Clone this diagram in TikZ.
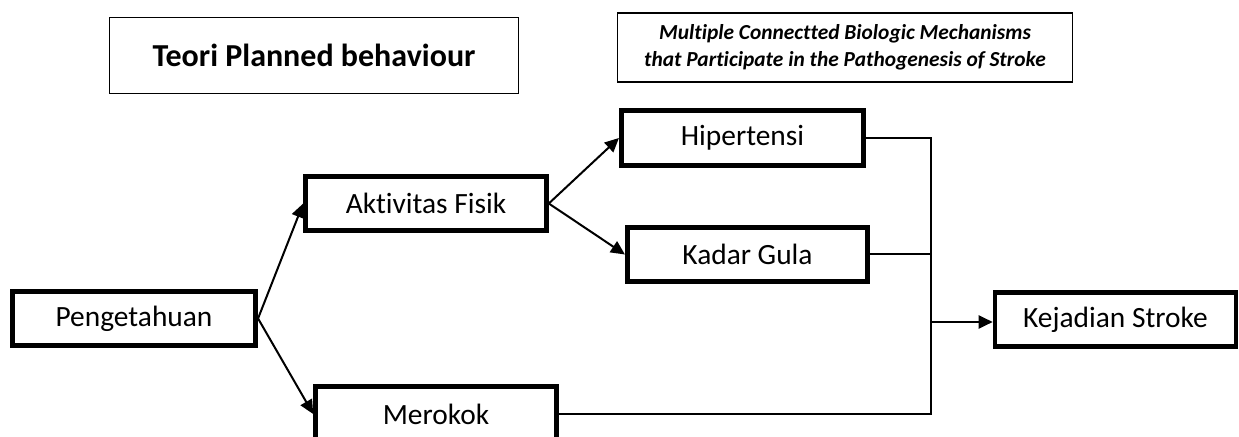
\documentclass[tikz,border=0pt]{standalone}
\usepackage{fontspec}
\setmainfont{Carlito}[Ligatures=NoCommon]
\usetikzlibrary{arrows.meta}
\begin{document}
\begin{tikzpicture}[x=0.5pt,y=-0.5pt,
  box/.style={draw=black,line width=2.3pt,rectangle,inner sep=0pt,
    minimum width=120.5pt,minimum height=27.25pt,font=\fontsize{14.7pt}{17pt}\selectfont},
  titlebox/.style={draw=black,line width=0.6pt,rectangle,inner sep=0pt,align=center},
  link/.style={line width=1pt,draw=black},
  arr/.style={link,-{Triangle[length=7pt,width=6.5pt]}}]
\useasboundingbox (0,0) rectangle (1239,437);
\node[titlebox,minimum width=204.5pt,minimum height=38pt,font=\bfseries\fontsize{16pt}{19pt}\selectfont] (t1) at (314,55.5) {Teori Planned behaviour};
\node[titlebox,minimum width=227.5pt,minimum height=34.5pt,font=\bfseries\itshape\fontsize{10.7pt}{13.5pt}\selectfont] (t2) at (845,47.5) {Multiple Connectted Biologic Mechanisms\\that Participate in the Pathogenesis of Stroke};
\node[box,minimum width=121.75pt] (p) at (134,318.5) {Pengetahuan};
\node[box] (a) at (426,203.5) {Aktivitas Fisik};
\node[box,minimum width=121.25pt,minimum height=27.75pt] (h) at (742.5,138) {Hipertensi};
\node[box,minimum width=120.25pt] (k) at (747.5,254.5) {Kadar Gula};
\node[box] (m) at (436,414) {Merokok};
\node[box] (s) at (1115.5,319.5) {Kejadian Stroke};
\coordinate (j) at (931,322);
\draw[arr] (p.east) -- (a.west);
\draw[arr] (p.east) -- (m.west);
\draw[arr] (a.east) -- (h.west);
\draw[arr] (a.east) -- (k.west);
\draw[link] (h.east) -- (h.east -| j) -- (j);
\draw[link] (k.east) -- (k.east -| j);
\draw[link] (m.east) -- (m.east -| j) -- (j);
\draw[arr] (j) -- (j -| s.west);
\end{tikzpicture}
\end{document}
